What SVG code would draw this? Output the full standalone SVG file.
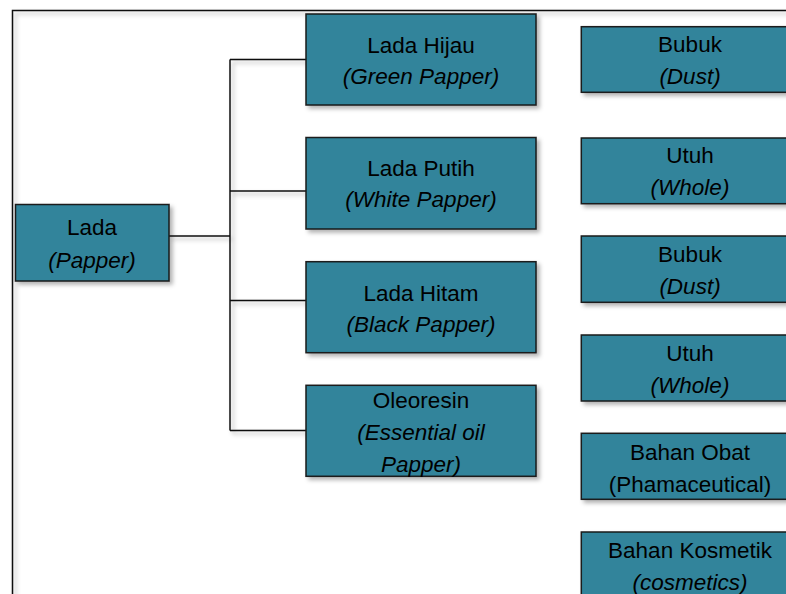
<svg xmlns="http://www.w3.org/2000/svg" width="786" height="594" viewBox="0 0 786 594">
<defs>
<filter id="sh" x="-10%" y="-10%" width="130%" height="130%">
<feDropShadow dx="3" dy="3" stdDeviation="2.2" flood-color="#000" flood-opacity="0.3"/>
</filter>
<style>
.box{fill:#31849b;stroke:#1a1a1a;stroke-width:1.5;filter:url(#sh)}
.ln{fill:none;stroke:#111;stroke-width:1.5}
text{font-family:"Liberation Sans",Arial,sans-serif;font-size:22.5px;fill:#000;text-anchor:middle}
.i{font-style:italic}
</style>
</defs>
<rect x="0" y="0" width="786" height="594" fill="#fff"/>
<g id="frame" filter="url(#sh)">
<rect x="12.5" y="10.5" width="800" height="620" fill="none" stroke="#111" stroke-width="1.5"/>
</g>
<g id="connectors" filter="url(#sh)">
<path class="ln" d="M169 236H230M230 59.5V430.5M230 59.5H306M230 191H306M230 300.5H306M230 430.5H306"/>
</g>
<g id="lada"><rect class="box" x="15.5" y="204.5" width="153.5" height="76.5"/><text x="92" y="235">Lada</text><text class="i" x="92" y="268">(Papper)</text></g>
<g id="hijau"><rect class="box" x="306" y="14" width="230" height="91"/><text x="421" y="52.5">Lada Hijau</text><text class="i" x="421" y="83.5">(Green Papper)</text></g>
<g id="putih"><rect class="box" x="306" y="137.5" width="230" height="91.5"/><text x="421" y="176">Lada Putih</text><text class="i" x="421" y="207">(White Papper)</text></g>
<g id="hitam"><rect class="box" x="306" y="261.7" width="230" height="91"/><text x="421" y="300.7">Lada Hitam</text><text class="i" x="421" y="332">(Black Papper)</text></g>
<g id="oleoresin"><rect class="box" x="306" y="385.3" width="230" height="91"/><text x="421" y="408.3">Oleoresin</text><text class="i" x="421" y="440">(Essential oil</text><text class="i" x="421" y="472">Papper)</text></g>
<g id="bubuk1"><rect class="box" x="581.3" y="26.7" width="218" height="65.6"/><text x="690" y="51.7">Bubuk</text><text class="i" x="690" y="83.5">(Dust)</text></g>
<g id="utuh1"><rect class="box" x="581.3" y="138" width="218" height="65.7"/><text x="690" y="162.7">Utuh</text><text class="i" x="690" y="195">(Whole)</text></g>
<g id="bubuk2"><rect class="box" x="581.3" y="236" width="218" height="66.3"/><text x="690" y="261.7">Bubuk</text><text class="i" x="690" y="294.3">(Dust)</text></g>
<g id="utuh2"><rect class="box" x="581.3" y="335" width="218" height="66"/><text x="690" y="360.7">Utuh</text><text class="i" x="690" y="393.3">(Whole)</text></g>
<g id="obat"><rect class="box" x="581.3" y="433.3" width="218" height="66"/><text x="690" y="460">Bahan Obat</text><text x="690" y="492.3">(Phamaceutical)</text></g>
<g id="kosmetik"><rect class="box" x="581.3" y="532" width="218" height="80"/><text x="690" y="558.3">Bahan Kosmetik</text><text class="i" x="690" y="590">(cosmetics)</text></g>
</svg>
